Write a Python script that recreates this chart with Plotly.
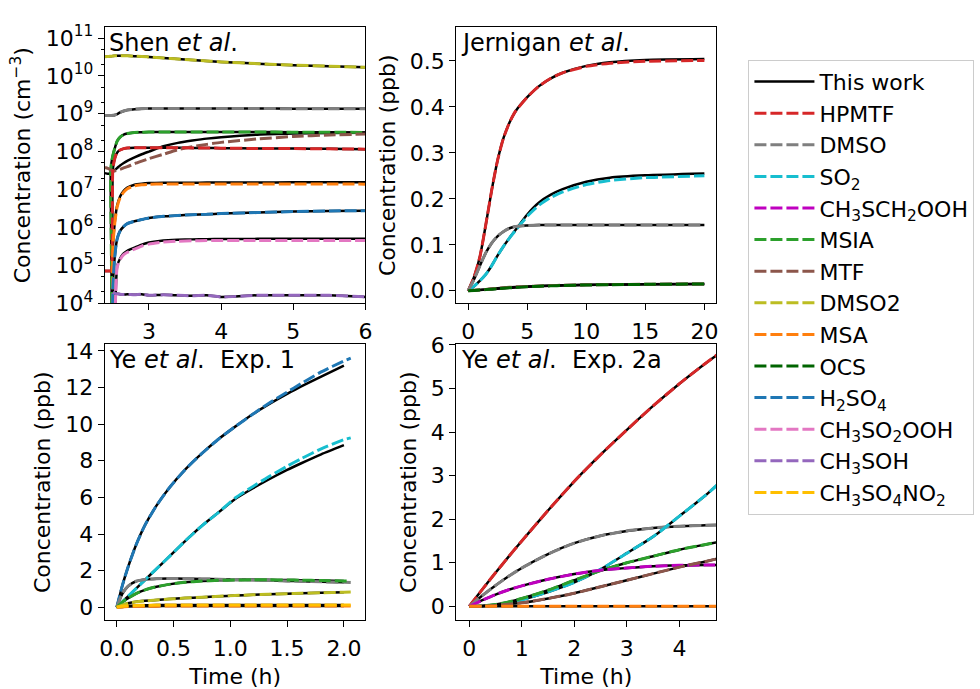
import plotly.graph_objects as go

# ---------------- DATA ----------------
# Panel 1: Shen et al. (cm^-3), time in h
SHEN_T = [2.39, 2.43, 2.46, 2.47, 2.48, 2.5, 2.53, 2.56, 2.6, 2.65, 2.7, 2.8, 2.9, 3.0,
          3.2, 3.4, 3.6, 3.8, 4.0, 4.5, 5.0, 5.5, 6.0]
SHEN_DMSO2 = [3.2e10, 3.25e10, 3.3e10, 3.3e10, 3.3e10, 3.35e10, 3.38e10, 3.4e10, 3.4e10, 3.4e10, 3.38e10,
              3.3e10, 3.25e10, 3.15e10, 2.95e10, 2.8e10, 2.62e10, 2.48e10, 2.34e10, 2.1e10, 1.92e10,
              1.8e10, 1.68e10]
SHEN_DMSO = [9.0e8, 9.0e8, 9.0e8, 9.0e8, 9.0e8, 9.1e8, 9.3e8, 9.8e8, 1.08e9, 1.18e9, 1.25e9, 1.32e9,
             1.36e9, 1.38e9, 1.38e9, 1.38e9, 1.38e9, 1.38e9, 1.37e9, 1.37e9, 1.36e9, 1.36e9, 1.36e9]
SHEN_MSIA = [1e2, 1e2, 1e2, 3e7, 5e7, 8e7, 1.3e8, 1.9e8, 2.4e8, 2.8e8, 3.0e8, 3.2e8, 3.25e8, 3.3e8,
             3.3e8, 3.3e8, 3.3e8, 3.3e8, 3.3e8, 3.3e8, 3.25e8, 3.25e8, 3.2e8]
SHEN_HPMTF = [7e4, 7e4, 7e4, 7e4, 7e4, 3.5e7, 7e7, 9.5e7, 1.1e8, 1.2e8, 1.25e8, 1.27e8, 1.27e8, 1.27e8,
              1.27e8, 1.26e8, 1.25e8, 1.24e8, 1.23e8, 1.21e8, 1.2e8, 1.18e8, 1.16e8]
SHEN_MTF = [3.8e7, 3.6e7, 3.4e7, 3.3e7, 3.2e7, 3.1e7, 3.1e7, 3.2e7, 3.4e7, 3.7e7, 4.0e7, 4.8e7, 5.6e7,
            6.5e7, 8.5e7, 1.12e8, 1.35e8, 1.55e8, 1.75e8, 2.15e8, 2.5e8, 2.75e8, 2.9e8]
SHEN_MTF_W = [2.7e7, 2.6e7, 2.6e7, 2.6e7, 2.7e7, 2.9e7, 3.3e7, 3.7e7, 4.3e7, 5.0e7, 5.7e7, 7.0e7, 8.5e7,
              1.0e8, 1.38e8, 1.7e8, 1.95e8, 2.2e8, 2.4e8, 2.8e8, 3.0e8, 3.1e8, 3.15e8]
SHEN_MSA = [1e2, 1e2, 1e2, 1e2, 1e2, 3e5, 1.5e6, 3.5e6, 6e6, 8.5e6, 1.05e7, 1.25e7, 1.33e7, 1.37e7,
            1.4e7, 1.4e7, 1.4e7, 1.4e7, 1.4e7, 1.4e7, 1.4e7, 1.4e7, 1.38e7]
SHEN_MSA_W = [1e2, 1e2, 1e2, 1e2, 1e2, 3e5, 1.6e6, 3.8e6, 6.5e6, 9.2e6, 1.12e7, 1.33e7, 1.42e7, 1.47e7,
              1.5e7, 1.5e7, 1.5e7, 1.52e7, 1.52e7, 1.53e7, 1.54e7, 1.55e7, 1.55e7]
SHEN_H2SO4 = [1e2, 1e2, 1e2, 1e2, 1e2, 3e4, 2e5, 5e5, 8e5, 1.05e6, 1.25e6, 1.45e6, 1.6e6, 1.75e6,
              1.95e6, 2.05e6, 2.15e6, 2.2e6, 2.3e6, 2.45e6, 2.6e6, 2.7e6, 2.75e6]
SHEN_CH3SO2OOH = [1e2, 1e2, 1e2, 1e2, 1e2, 1e2, 5e3, 9e4, 1.4e5, 1.9e5, 2.2e5, 2.65e5, 3.2e5, 3.6e5,
                  4.1e5, 4.3e5, 4.4e5, 4.45e5, 4.5e5, 4.5e5, 4.5e5, 4.5e5, 4.45e5]
SHEN_CH3SO2OOH_W = [1e2, 1e2, 1e2, 1e2, 1e2, 1e2, 5e3, 9.5e4, 1.5e5, 2.05e5, 2.4e5, 2.9e5, 3.5e5, 3.95e5,
                    4.5e5, 4.7e5, 4.8e5, 4.85e5, 4.9e5, 4.95e5, 5.0e5, 5.0e5, 5.0e5]
SHEN_CH3SOH = [None, None, None, None, None, 1.9e4, 1.8e4, 1.75e4, 1.7e4, 1.68e4, 1.7e4, 1.65e4, 1.7e4,
               1.6e4, 1.65e4, 1.6e4, 1.55e4, 1.6e4, 1.45e4, 1.6e4, 1.6e4, 1.6e4, 1.45e4]

# Panel 2: Jernigan et al. (ppb)
JER_T = [0, 0.5, 1, 1.5, 2, 2.5, 3, 3.5, 4, 5, 6, 7, 8, 10, 12, 15, 20]
JER_HPMTF = [0, 0.03, 0.075, 0.145, 0.22, 0.285, 0.333, 0.366, 0.39, 0.421, 0.445, 0.462, 0.474, 0.488,
             0.495, 0.499, 0.501]
JER_HPMTF_W = [0, 0.03, 0.075, 0.145, 0.22, 0.285, 0.333, 0.366, 0.39, 0.421, 0.445, 0.462, 0.474, 0.489,
               0.497, 0.502, 0.504]
JER_SO2 = [0, 0.01, 0.022, 0.036, 0.055, 0.077, 0.097, 0.115, 0.131, 0.162, 0.186, 0.203, 0.215, 0.231,
           0.24, 0.246, 0.25]
JER_SO2_W = [0, 0.01, 0.022, 0.036, 0.055, 0.077, 0.097, 0.115, 0.132, 0.166, 0.192, 0.209, 0.221, 0.237,
             0.246, 0.251, 0.255]
JER_DMSO = [0, 0.025, 0.055, 0.083, 0.104, 0.119, 0.129, 0.136, 0.14, 0.142, 0.143, 0.143, 0.143, 0.143,
            0.143, 0.143, 0.143]
JER_MTF = [0, 0.001, 0.002, 0.003, 0.0045, 0.0055, 0.0065, 0.0075, 0.0085, 0.0095, 0.0105, 0.0113, 0.012,
           0.013, 0.0136, 0.0142, 0.015]
JER_OCS = [0, 0.0008, 0.0017, 0.0026, 0.0036, 0.0046, 0.0055, 0.0064, 0.0072, 0.0087, 0.0098, 0.0107,
           0.0115, 0.0126, 0.0133, 0.014, 0.0148]

# Panel 3: Ye et al. Exp. 1 (ppb)
YE1_T = [0, 0.05, 0.1, 0.17, 0.25, 0.35, 0.46, 0.6, 0.75, 0.9, 1.04, 1.2, 1.33, 1.5, 1.62, 1.8, 2.0, 2.06]
YE1_H2SO4 = [0, 1.2, 2.2, 3.4, 4.5, 5.55, 6.5, 7.5, 8.4, 9.2, 9.85, 10.55, 11.1, 11.75, 12.2, 12.85,
             13.45, 13.6]
YE1_H2SO4_W = [0, 1.2, 2.2, 3.4, 4.5, 5.55, 6.5, 7.5, 8.4, 9.2, 9.85, 10.55, 11.05, 11.65, 12.05, 12.6,
               13.2, None]
YE1_SO2 = [0, 0.3, 0.6, 1.02, 1.5, 2.1, 2.75, 3.6, 4.45, 5.2, 5.95, 6.6, 7.1, 7.7, 8.1, 8.65, 9.15, 9.25]
YE1_SO2_W = [0, 0.3, 0.6, 1.02, 1.5, 2.1, 2.75, 3.6, 4.45, 5.2, 5.9, 6.5, 6.95, 7.5, 7.85, 8.35, 8.85, None]
YE1_DMSO = [0, 0.75, 1.15, 1.42, 1.52, 1.56, 1.57, 1.56, 1.55, 1.53, 1.51, 1.49, 1.47, 1.44, 1.42, 1.39,
            1.36, 1.35]
YE1_MSIA = [0, 0.28, 0.5, 0.75, 0.95, 1.12, 1.25, 1.36, 1.43, 1.47, 1.49, 1.5, 1.5, 1.49, 1.48, 1.46,
            1.44, 1.43]
YE1_DMSO2 = [0, 0.12, 0.22, 0.3, 0.35, 0.4, 0.45, 0.5, 0.55, 0.6, 0.64, 0.68, 0.71, 0.74, 0.76, 0.79,
             0.82, 0.83]
YE1_MSA = [0, 0.02, 0.04, 0.05, 0.06, 0.06, 0.07, 0.07, 0.07, 0.07, 0.07, 0.07, 0.07, 0.07, 0.07, 0.07,
           0.07, 0.07]
YE1_CH3SO4NO2 = [0, 0.05, 0.08, 0.1, 0.11, 0.12, 0.12, 0.12, 0.12, 0.12, 0.12, 0.12, 0.12, 0.12, 0.12,
                 0.12, 0.12, 0.12]

# Panel 4: Ye et al. Exp. 2a (ppb)
YE2_T = [0, 0.25, 0.5, 0.75, 1, 1.5, 2, 2.5, 3, 3.5, 4, 4.5, 4.75]
YE2_HPMTF = [0, 0.39, 0.77, 1.14, 1.5, 2.2, 2.87, 3.48, 4.05, 4.6, 5.11, 5.58, 5.8]
YE2_DMSO = [0, 0.25, 0.48, 0.69, 0.88, 1.2, 1.45, 1.62, 1.73, 1.8, 1.84, 1.86, 1.87]
YE2_SO2 = [0, 0.005, 0.03, 0.08, 0.15, 0.33, 0.55, 0.85, 1.22, 1.6, 2.07, 2.55, 2.82]
YE2_MSIA = [0, 0.01, 0.04, 0.1, 0.18, 0.37, 0.6, 0.82, 1.0, 1.15, 1.3, 1.42, 1.48]
YE2_CH3SCH2OOH = [0, 0.14, 0.27, 0.38, 0.47, 0.62, 0.74, 0.83, 0.88, 0.92, 0.94, 0.95, 0.95]
YE2_MTF = [0, 0.005, 0.02, 0.05, 0.08, 0.18, 0.3, 0.45, 0.6, 0.75, 0.9, 1.03, 1.1]
YE2_MSA = [0, 0, 0, 0, 0, 0, 0, 0, 0, 0, 0, 0, 0]

# ---------------- STYLE ----------------
SPECIES = {
    'HPMTF': ('#d62728', 'HPMTF'),
    'DMSO': ('#7f7f7f', 'DMSO'),
    'SO2': ('#17becf', 'SO<sub>2</sub>'),
    'CH3SCH2OOH': ('#bf00bf', 'CH<sub>3</sub>SCH<sub>2</sub>OOH'),
    'MSIA': ('#2ca02c', 'MSIA'),
    'MTF': ('#8c564b', 'MTF'),
    'DMSO2': ('#bcbd22', 'DMSO2'),
    'MSA': ('#ff7f0e', 'MSA'),
    'OCS': ('#006400', 'OCS'),
    'H2SO4': ('#1f77b4', 'H<sub>2</sub>SO<sub>4</sub>'),
    'CH3SO2OOH': ('#e377c2', 'CH<sub>3</sub>SO<sub>2</sub>OOH'),
    'CH3SOH': ('#9467bd', 'CH<sub>3</sub>SOH'),
    'CH3SO4NO2': ('#ffbf00', 'CH<sub>3</sub>SO<sub>4</sub>NO<sub>2</sub>'),
}
ORDER = list(SPECIES.keys())

PANELS = [
    ('x', 'y', SHEN_T, [
        ('DMSO2', SHEN_DMSO2, SHEN_DMSO2), ('DMSO', SHEN_DMSO, SHEN_DMSO),
        ('MSIA', SHEN_MSIA, SHEN_MSIA), ('MTF', SHEN_MTF, SHEN_MTF_W),
        ('HPMTF', SHEN_HPMTF, SHEN_HPMTF), ('MSA', SHEN_MSA, SHEN_MSA_W),
        ('H2SO4', SHEN_H2SO4, SHEN_H2SO4), ('CH3SO2OOH', SHEN_CH3SO2OOH, SHEN_CH3SO2OOH_W),
        ('CH3SOH', SHEN_CH3SOH, SHEN_CH3SOH)]),
    ('x2', 'y2', JER_T, [
        ('HPMTF', JER_HPMTF, JER_HPMTF_W), ('SO2', JER_SO2, JER_SO2_W),
        ('DMSO', JER_DMSO, JER_DMSO), ('MTF', JER_MTF, JER_MTF), ('OCS', JER_OCS, JER_OCS)]),
    ('x3', 'y3', YE1_T, [
        ('H2SO4', YE1_H2SO4, YE1_H2SO4_W), ('SO2', YE1_SO2, YE1_SO2_W),
        ('DMSO', YE1_DMSO, YE1_DMSO[:-1]), ('MSIA', YE1_MSIA, YE1_MSIA[:-1]),
        ('DMSO2', YE1_DMSO2, YE1_DMSO2[:-1]), ('MSA', YE1_MSA, YE1_MSA[:-1]),
        ('CH3SO4NO2', YE1_CH3SO4NO2, YE1_CH3SO4NO2[:-1])]),
    ('x4', 'y4', YE2_T, [
        ('HPMTF', YE2_HPMTF, YE2_HPMTF), ('DMSO', YE2_DMSO, YE2_DMSO),
        ('SO2', YE2_SO2, YE2_SO2), ('MSIA', YE2_MSIA, YE2_MSIA),
        ('CH3SCH2OOH', YE2_CH3SCH2OOH, YE2_CH3SCH2OOH), ('MTF', YE2_MTF, YE2_MTF),
        ('MSA', YE2_MSA, YE2_MSA)]),
]

FONT = 'DejaVu Sans'
fig = go.Figure()
shown = set()
work_shown = False
for xa, ya, T, series in PANELS:
    # black model lines first
    for sp, ref, work in series:
        fig.add_trace(go.Scatter(
            x=T[:len(work)], y=work, xaxis=xa, yaxis=ya, mode='lines',
            line=dict(color='black', width=2.5, shape='spline', smoothing=0.6), name='This work',
            legendgroup='work', legendrank=1, showlegend=not work_shown, hoverinfo='skip'))
        work_shown = True
    for sp, ref, work in series:
        col, label = SPECIES[sp]
        fig.add_trace(go.Scatter(
            x=T, y=ref, xaxis=xa, yaxis=ya, mode='lines',
            line=dict(color=col, width=3, dash='12px,4px', shape='spline', smoothing=0.6), name=label,
            legendgroup=sp, legendrank=2 + ORDER.index(sp),
            showlegend=sp not in shown, hoverinfo='skip'))
        shown.add(sp)

XD1 = [0.1031, 0.3724]
XD2 = [0.4663, 0.7347]
YD1 = [0.5617, 0.9768]
YD2 = [0.0842, 0.4993]

TICK = 22
axis_common = dict(showline=True, mirror=True, linecolor='black', linewidth=1.3,
                   ticks='outside', ticklen=6, tickwidth=1.3, tickcolor='black',
                   showgrid=False, zeroline=False,
                   tickfont=dict(family=FONT, size=TICK, color='black'))
xaxis_common = dict(axis_common, ticklabelstandoff=2)
title_font = dict(family=FONT, size=22, color='black')

fig.update_layout(
    width=980, height=689, margin=dict(l=0, r=0, t=0, b=0),
    paper_bgcolor='white', plot_bgcolor='white',
    font=dict(family=FONT, size=22, color='black'),
    xaxis=dict(domain=XD1, anchor='y', range=[2.388, 6.0], tickvals=[3, 4, 5, 6], **xaxis_common),
    yaxis=dict(domain=YD1, anchor='x', type='log', range=[4, 11.28],
               tickvals=[10 ** k for k in range(4, 12)],
               ticktext=['10<sup>%d</sup>' % k for k in range(4, 12)],
               minor=dict(ticks='outside', ticklen=3, tickwidth=1, tickcolor='black', showgrid=False),
               title=dict(text='Concentration (cm<sup>\u22123</sup>)', font=title_font, standoff=8),
               **axis_common),
    xaxis2=dict(domain=XD2, anchor='y2', range=[-1, 21], tickvals=[0, 5, 10, 15, 20], **xaxis_common),
    yaxis2=dict(domain=YD1, anchor='x2', range=[-0.0266, 0.5727],
                tickvals=[0, 0.1, 0.2, 0.3, 0.4, 0.5], tickformat='.1f',
                title=dict(text='Concentration (ppb)', font=title_font, standoff=8), **axis_common),
    xaxis3=dict(domain=XD1, anchor='y3', range=[-0.105, 2.19], tickvals=[0, 0.5, 1, 1.5, 2],
                tickformat='.1f', title=dict(text='Time (h)', font=title_font, standoff=11), **xaxis_common),
    yaxis3=dict(domain=YD2, anchor='x3', range=[-0.7, 14.35], tickvals=list(range(0, 15, 2)),
                title=dict(text='Concentration (ppb)', font=title_font, standoff=8), **axis_common),
    xaxis4=dict(domain=XD2, anchor='y4', range=[-0.245, 4.7], tickvals=[0, 1, 2, 3, 4],
                title=dict(text='Time (h)', font=title_font, standoff=11), **xaxis_common),
    yaxis4=dict(domain=YD2, anchor='x4', range=[-0.316, 6.01], tickvals=list(range(0, 7)),
                title=dict(text='Concentration (ppb)', font=title_font, standoff=8), **axis_common),
    legend=dict(x=0.768, y=0.928, xanchor='left', yanchor='top',
                bordercolor='#cccccc', borderwidth=1, bgcolor='white', itemwidth=60,
                font=dict(family=FONT, size=22, color='black'), tracegroupgap=0),
    showlegend=True,
)

titles = [('x', 'y', 'Shen <i>et al</i>.'), ('x2', 'y2', 'Jernigan <i>et al</i>.'),
          ('x3', 'y3', 'Ye <i>et al</i>.\u00a0 Exp. 1'), ('x4', 'y4', 'Ye <i>et al</i>.\u00a0 Exp. 2a')]
for xa, ya, txt in titles:
    fig.add_annotation(text=txt, xref=xa + ' domain', yref=ya + ' domain', x=0.01, y=1.0,
                       xanchor='left', yanchor='top', showarrow=False,
                       font=dict(family=FONT, size=24, color='black'))

fig.write_html('out.html')
